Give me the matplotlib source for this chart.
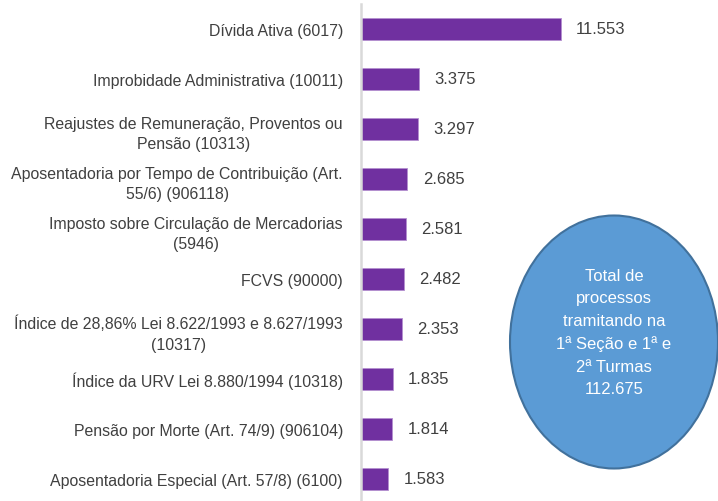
import matplotlib.pyplot as plt
from matplotlib.patches import Ellipse

plt.rcParams["font.family"] = ["Liberation Sans", "DejaVu Sans"]

categories = [
    "Dívida Ativa (6017)",
    "Improbidade Administrativa (10011)",
    "Reajustes de Remuneração, Proventos ou\nPensão (10313)",
    "Aposentadoria por Tempo de Contribuição (Art.\n55/6) (906118)",
    "Imposto sobre Circulação de Mercadorias\n(5946)",
    "FCVS (90000)",
    "Índice de 28,86% Lei 8.622/1993 e 8.627/1993\n(10317)",
    "Índice da URV Lei 8.880/1994 (10318)",
    "Pensão por Morte (Art. 74/9) (906104)",
    "Aposentadoria Especial (Art. 57/8) (6100)",
]
values = [11553, 3375, 3297, 2685, 2581, 2482, 2353, 1835, 1814, 1583]
total_text = "Total de\nprocessos\ntramitando na\n1ª Seção e 1ª e\n2ª Turmas\n112.675"

W, H = 718, 502
fig = plt.figure(figsize=(W / 100, H / 100), dpi=100)
ax = fig.add_axes([361 / W, 0, 1 - 361 / W, 497 / H])

pos = list(range(len(values)))
ax.barh(pos, values, height=0.44, color="#7030A0", edgecolor="#b48fd0", linewidth=0.6)
ax.set_ylim(9.44, -0.5)
ax.set_xlim(0, 20630)

for p, v in zip(pos, values):
    ax.annotate(f"{v:,}".replace(",", "."), (v, p), xytext=(11, 0),
                textcoords="offset points", va="center", ha="left",
                fontsize=12, color="#404040")

ax.set_yticks(pos)
ax.set_yticklabels(categories, fontsize=11.4, color="#404040",
                   multialignment="center", linespacing=1.45)
ax.tick_params(axis="y", length=0, pad=13)
ax.set_xticks([])
for s in ["top", "right", "bottom"]:
    ax.spines[s].set_visible(False)
ax.spines["left"].set_color("#d9d9d9")
ax.spines["left"].set_linewidth(1.8)

ell = Ellipse((614 / W, 1 - 343 / H), 208 / W, 253 / H, transform=fig.transFigure,
              facecolor="#5b9bd5", edgecolor="#41719c", linewidth=1.5)
fig.patches.append(ell)
fig.text(614 / W, 1 - 333 / H, total_text, ha="center", va="center", color="white",
         fontsize=12, linespacing=1.62)

fig.savefig("out.png", dpi=100)
